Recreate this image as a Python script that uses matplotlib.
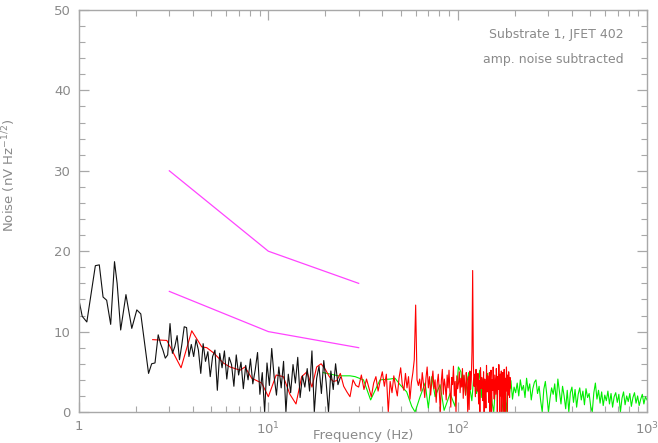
import matplotlib

matplotlib.use("Agg")
import matplotlib.pyplot as plt
import numpy as np
from matplotlib.ticker import FuncFormatter, LogLocator, MultipleLocator, NullFormatter

# ------------------------------------------------------------------
# Data (noise in nV / sqrt(Hz))
# ------------------------------------------------------------------

# black trace: low-frequency part, explicit frequencies
black_lo_freq = [1.00, 1.04, 1.10, 1.22, 1.28, 1.34, 1.40, 1.47, 1.54, 1.59,
                 1.66, 1.77, 1.90, 2.02, 2.12, 2.33, 2.42, 2.52]
black_lo_noise = [13.9, 11.9, 11.2, 18.2, 18.3, 14.3, 13.9, 10.9, 18.7, 16.0,
                  10.2, 14.6, 10.4, 12.7, 12.2, 4.8, 6.0, 6.1]
# black trace: 2.62 .. 24 Hz, log-spaced bins
black_hi_range = (2.62, 24.0)
black_hi_noise = [9.6, 8.5, 7.7, 6.7, 7.1, 11.0, 7.3, 8.1, 9.5, 6.5,
                  8.4, 10.6, 10.5, 6.9, 8.4, 6.9, 9.0, 7.7, 4.8, 8.5,
                  6.3, 7.5, 4.4, 6.9, 7.7, 2.7, 7.3, 5.5, 7.6, 4.1,
                  6.8, 5.9, 3.2, 7.1, 4.6, 6.2, 2.9, 5.8, 4.0, 6.6,
                  3.5, 5.2, 7.4, 2.2, 4.9, 0.0, 6.1, 3.3, 7.9, 4.4,
                  2.1, 5.6, 3.0, 6.3, 0.0, 4.7, 2.4, 5.9, 3.6, 6.8,
                  1.8, 4.5, 3.1, 5.4, 2.6, 7.6, 0.0, 4.2, 5.7, 2.3,
                  6.4, 3.7, 0.0, 5.1, 2.8, 6.0, 3.4, 4.3]

# red trace: low part, explicit frequencies
red_lo_freq = [2.45, 2.91, 3.46, 3.94, 4.45, 4.73, 5.17, 5.78, 6.28, 7.09,
               7.53, 8.17, 9.23]
red_lo_noise = [9.0, 8.9, 5.5, 10.1, 8.1, 8.0, 7.3, 6.1, 5.6, 5.2,
                5.6, 4.2, 3.6]
# red trace: 10 .. 190 Hz in 1 Hz bins (mains pickup at 60 and 120 Hz)
red_hi_range = (10.0, 190.0)
red_hi_noise = [1.9, 4.6, 4.4, 2.2, 1.0, 4.4, 5.0, 3.1, 5.6, 6.0,
                5.3, 4.4, 3.8, 3.9, 4.8, 3.2, 2.5, 1.9, 4.0, 3.3,
                3.1, 4.6, 2.8, 4.1, 3.0, 1.9, 3.6, 4.4, 2.6, 3.9,
                5.0, 3.2, 4.7, 0.0, 3.8, 2.4, 4.5, 3.1, 2.0, 4.2,
                5.5, 3.4, 2.7, 4.8, 3.0, 4.4, 1.6, 3.7, 4.9, 6.5,
                13.3, 4.0, 3.3, 4.1, 2.6, 4.9, 3.5, 1.8, 4.2, 5.6,
                3.0, 4.4, 2.1, 3.8, 5.1, 2.9, 4.0, 1.2, 3.6, 4.7,
                2.5, 0.0, 3.9, 5.3, 2.2, 4.1, 3.2, 1.5, 4.6, 3.0,
                5.2, 2.7, 0.6, 4.3, 3.4, 5.7, 2.0, 3.8, 0.0, 4.5,
                2.9, 3.6, 5.0, 2.4, 4.2, 3.1, 5.4, 1.7, 4.6, 3.3,
                2.1, 4.9, 3.7, 0.0, 4.4, 0.3, 5.1, 2.8, 4.0, 7.5,
                17.6, 6.0, 3.2, 4.7, 1.9, 5.3, 3.5, 2.6, 4.8, 1.0,
                3.9, 0.0, 5.5, 2.9, 4.3, 3.6, 1.4, 5.0, 0.0, 4.1,
                3.0, 0.5, 5.8, 2.5, 4.5, 3.4, 1.2, 4.9, 0.0, 3.8,
                5.2, 0.0, 4.0, 2.7, 5.6, 3.1, 1.6, 4.6, 3.5, 2.2,
                5.4, 3.9, 0.0, 4.4, 2.8, 5.9, 3.3, 0.0, 4.7, 2.0,
                5.1, 0.0, 3.7, 4.9, 2.3, 0.0, 5.3, 3.0, 0.0, 4.2,
                2.6, 5.6, 3.4, 0.0, 4.6, 2.1, 5.0, 3.6, 1.8, 4.3, 3.0]

# green trace: low part, explicit frequencies
green_lo_freq = [19.5, 23.4, 27.0, 28.7, 31.8, 34.7, 38.9, 44.0, 46.7, 49.6,
                 53.8, 57.2, 59.6, 63.3, 67.3, 70.0, 73.0, 76.0, 80.7, 84.8,
                 91.2, 96.9, 100.9]
green_lo_noise = [4.9, 4.5, 4.5, 4.4, 4.0, 1.5, 4.0, 4.1, 4.2, 3.4,
                  2.5, 0.7, 0.0, 1.9, 3.6, 0.5, 4.4, 1.9, 3.4, 0.2,
                  2.3, 0.7, 5.6]
# green trace: 104 .. 1000 Hz, log-spaced bins
green_hi_range = (104.0, 1000.0)
green_hi_noise = [5.0, 3.2, 4.5, 2.1, 3.8, 4.9, 2.6, 1.4, 3.9, 4.6,
                  2.3, 3.5, 5.2, 1.8, 4.1, 2.9, 3.7, 4.8, 2.0, 3.3,
                  1.1, 0.0, 2.8, 4.4, 3.0, 4.7, 1.9, 0.0, 2.5, 0.0,
                  3.4, 2.2, 3.9, 1.6, 3.1, 2.4, 3.6, 2.0, 4.0, 2.7,
                  3.3, 1.8, 4.2, 2.6, 3.5, 1.5, 2.9, 3.7, 4.0, 2.3,
                  3.2, 1.4, 0.0, 2.8, 3.8, 2.0, 0.0, 1.7, 3.0, 2.2,
                  3.5, 1.3, 4.1, 2.5, 1.0, 3.2, 2.0, 0.4, 2.7, 0.0,
                  2.4, 3.1, 1.2, 2.8, 0.6, 2.2, 3.0, 1.5, 2.6, 0.9,
                  2.9, 1.8, 2.3, 0.7, 0.0, 2.4, 3.6, 1.6, 2.7, 1.1,
                  2.5, 0.8, 2.1, 1.4, 2.6, 1.0, 2.3, 0.6, 1.9, 2.4,
                  1.2, 2.2, 0.0, 1.7, 2.5, 0.9, 2.0, 1.3, 2.3, 0.7,
                  1.8, 2.4, 1.1, 2.0, 0.8, 1.6, 2.2, 1.0, 1.9, 1.5]

# magenta reference lines
ref_freq = [3, 10, 30]
ref_upper = [30, 20, 16]
ref_lower = [15, 10, 8]

# ------------------------------------------------------------------
# Assemble traces
# ------------------------------------------------------------------
black_freq = np.concatenate([black_lo_freq,
                             np.geomspace(*black_hi_range, len(black_hi_noise))])
black_noise = np.concatenate([black_lo_noise, black_hi_noise])

red_freq = np.concatenate([red_lo_freq,
                           np.linspace(*red_hi_range, len(red_hi_noise))])
red_noise = np.concatenate([red_lo_noise, red_hi_noise])

green_freq = np.concatenate([green_lo_freq,
                             np.geomspace(*green_hi_range, len(green_hi_noise))])
green_noise = np.concatenate([green_lo_noise, green_hi_noise])

AXIS_GREY = "#a8a8a8"
TEXT_GREY = "#8a8a8a"

fig = plt.figure(figsize=(6.58, 4.43), dpi=100)
ax = fig.add_axes([79 / 658, 31 / 443, 568 / 658, 402 / 443])

ax.plot(green_freq, green_noise, color="#00ee00", lw=0.8)
ax.plot(red_freq, red_noise, color="#ff0000", lw=0.8)
ax.plot(black_freq, black_noise, color="#111111", lw=0.8)
ax.plot(ref_freq, ref_upper, color="#ff44ff", lw=0.9)
ax.plot(ref_freq, ref_lower, color="#ff44ff", lw=0.9)

ax.set_xscale("log")
ax.set_xlim(1, 1000)
ax.set_ylim(0, 50)

ax.xaxis.set_major_locator(LogLocator(base=10))
ax.xaxis.set_minor_locator(LogLocator(base=10, subs=range(2, 10)))
ax.xaxis.set_minor_formatter(NullFormatter())
ax.xaxis.set_major_formatter(
    FuncFormatter(lambda v, _: "1" if v == 1 else f"$10^{{{int(round(np.log10(v)))}}}$"))
ax.yaxis.set_major_locator(MultipleLocator(10))
ax.yaxis.set_minor_locator(MultipleLocator(2))

for side in ax.spines.values():
    side.set_color(AXIS_GREY)
    side.set_linewidth(1.0)

ax.tick_params(which="both", direction="in", top=True, right=True,
               color=AXIS_GREY, labelcolor=TEXT_GREY, labelsize=9.5)
ax.tick_params(which="major", length=7, width=0.9)
ax.tick_params(which="minor", length=4, width=0.8)
ax.tick_params(axis="x", pad=6)
ax.tick_params(axis="y", pad=6)

# x label sits low between the 10^1 and 10^2 tick labels, kept inside the canvas
ax.set_xlabel("Frequency (Hz)", color=TEXT_GREY, fontsize=9.5)
ax.xaxis.set_label_coords(0.5, -0.074)
ax.xaxis.label.set_va("bottom")
ax.set_ylabel("Noise (nV Hz$^{-1/2}$)", color=TEXT_GREY, fontsize=9.5)
ax.yaxis.set_label_coords(-0.107, 0.59)

ax.text(0.958, 0.938, "Substrate 1, JFET 402", transform=ax.transAxes,
        ha="right", va="center", color=TEXT_GREY, fontsize=9)
ax.text(0.958, 0.878, "amp. noise subtracted", transform=ax.transAxes,
        ha="right", va="center", color=TEXT_GREY, fontsize=9)

fig.savefig("out.png", dpi=100)
